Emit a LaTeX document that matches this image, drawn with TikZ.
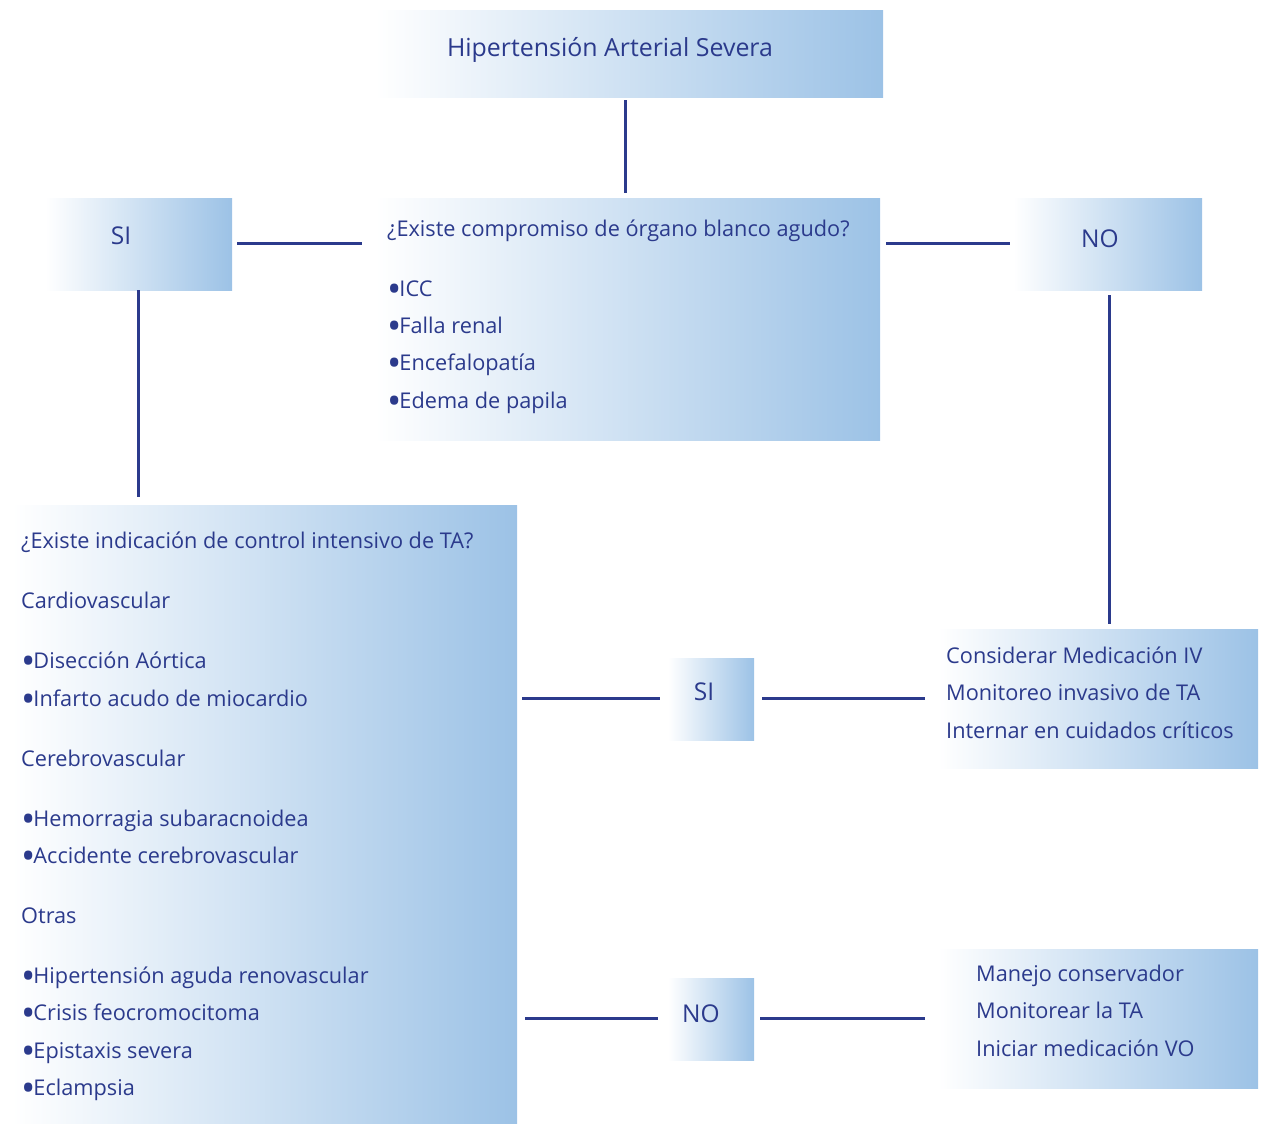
\documentclass[tikz,border=0pt]{standalone}
\usepackage{fontspec}
\usepackage{graphicx}
\setmainfont{Open Sans}
\usetikzlibrary{calc}
\definecolor{txtblue}{HTML}{2B3A8C}
\definecolor{boxblue}{HTML}{9CC2E6}
\newcommand\bul{\raisebox{-6.2pt}{\scalebox{1.75}{•}}\kern-2pt}
\begin{document}
\begin{tikzpicture}[x=1pt,y=-1pt,
  box/.style={draw=none, left color=white, right color=boxblue, inner sep=0pt, anchor=north west},
  txt/.style={text=txtblue, font=\fontsize{21.7}{25}\selectfont, inner sep=0pt, anchor=base west},
  lbl/.style={text=txtblue, font=\fontsize{24.5}{28}\selectfont, inner sep=0pt, anchor=base},
  conn/.style={draw=txtblue, line width=3pt}]
\useasboundingbox (0,0) rectangle (1264,1124);
% boxes
\node[box, minimum width=508, minimum height=87] (top) at (375,10) {};
\node[box, minimum width=505, minimum height=242] (q) at (375,198) {};
\node[box, minimum width=187, minimum height=92] (si1) at (45,198) {};
\node[box, minimum width=189, minimum height=92] (no1) at (1013,198) {};
\node[box, minimum width=505, minimum height=618] (big) at (12,505) {};
\node[box, minimum width=86, minimum height=82] (si2) at (668,658) {};
\node[box, minimum width=86, minimum height=82] (no2) at (668,978) {};
\node[box, minimum width=320, minimum height=139] (r1) at (938,629) {};
\node[box, minimum width=320, minimum height=139] (r2) at (938,949) {};
% labels
\node[lbl, font=\fontsize{24.9}{28}\selectfont] (tt) at (610,57) {Hipertensión Arterial Severa};
\node[lbl] (ts1) at (121,244) {SI};
\node[lbl] (tn1) at (1100,247) {NO};
\node[lbl] (ts2) at (704,700) {SI};
\node[lbl] (tn2) at (701,1022) {NO};
% question box text
\foreach \y/\t [count=\i] in {236/¿Existe compromiso de órgano blanco agudo?,296/\bul ICC,333/\bul Falla renal,370/\bul Encefalopatía,408/\bul Edema de papila}
  \node[txt] (q\i) at (387,\y) {\t};
% big box text
\foreach \y/\t [count=\i] in {548/¿Existe indicación de control intensivo de TA?,608/Cardiovascular,668/\bul Disección Aórtica,706/\bul Infarto acudo de miocardio,766/Cerebrovascular,826/\bul Hemorragia subaracnoidea,863/\bul Accidente cerebrovascular,923/Otras,983/\bul Hipertensión aguda renovascular,1020/\bul Crisis feocromocitoma,1058/\bul Epistaxis severa,1095/\bul Eclampsia}
  \node[txt] (b\i) at (21,\y) {\t};
% right boxes text
\foreach \y/\t [count=\i] in {663/Considerar Medicación IV,700/Monitoreo invasivo de TA,738/Internar en cuidados críticos}
  \node[txt] (ra\i) at (946,\y) {\t};
\foreach \y/\t [count=\i] in {981/Manejo conservador,1018/Monitorear la TA,1056/Iniciar medicación VO}
  \node[txt] (rb\i) at (976,\y) {\t};
% connectors
\draw[conn] ($(top.south west)+(250,3)$) -- ($(q.north west)+(250,-5)$);
\draw[conn] ($(si1.north east)+(5,45)$) -- ($(q.north west)+(-13,45)$);
\draw[conn] ($(q.north east)+(6,45)$) -- ($(no1.north west)+(-3,45)$);
\draw[conn] ($(si1.south west)+(93,0)$) -- ($(big.north west)+(126,-8)$);
\draw[conn] ($(no1.south west)+(96,5)$) -- ($(r1.north west)+(171,-5)$);
\draw[conn] ($(big.north east)+(5,193)$) -- ($(si2.north west)+(-8,40)$);
\draw[conn] ($(si2.north east)+(8,40)$) -- ($(r1.north west)+(-13,69)$);
\draw[conn] ($(big.north east)+(8,513)$) -- ($(no2.north west)+(-10,40)$);
\draw[conn] ($(no2.north east)+(6,40)$) -- ($(r2.north west)+(-13,69)$);
\end{tikzpicture}
\end{document}
